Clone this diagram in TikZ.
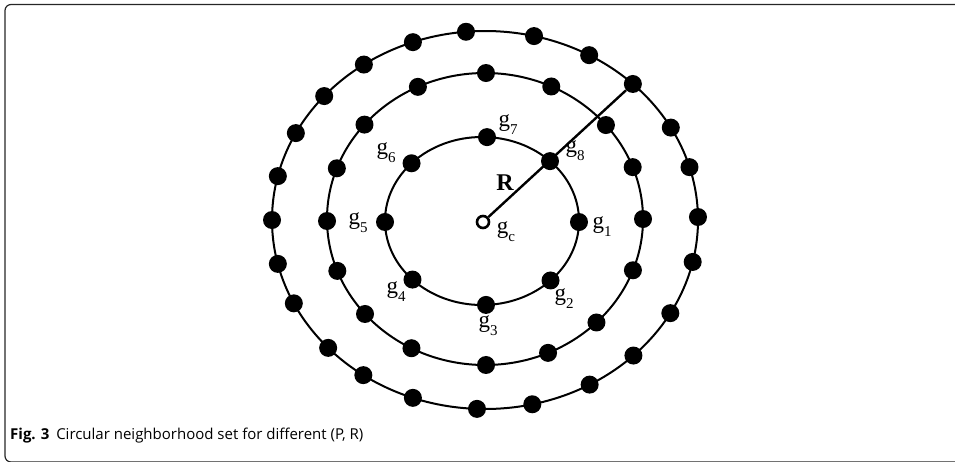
\documentclass[tikz,border=0pt]{standalone}
\usepackage{fontspec}
\setmainfont{Liberation Serif}
\newfontfamily\capfont{Open Sans}
\tikzset{
  ring/.style={line width=2pt},
  dot/.style={circle, fill=black, inner sep=0pt, minimum size=18pt},
  center/.style={circle, draw, fill=white, line width=2.6pt, inner sep=0pt, minimum size=12pt},
  lbl/.style={font=\fontsize{23}{23}\selectfont, inner sep=0pt},
  radius line/.style={line width=2.4pt},
  frame/.style={line width=1.2pt, black!85, rounded corners=6pt},
}
% label g with a lowered index
\newcommand\glab[1]{g\raisebox{-8pt}{\fontsize{15}{15}\selectfont #1}}
\begin{document}
\begin{tikzpicture}[x=1pt,y=-1pt]
\useasboundingbox (0,0) rectangle (955,461);
\begin{scope}
  \clip (0,0) rectangle (955,461);
  \draw[frame] (5,4.5) rectangle (1000,462);
\end{scope}

% the three sampling circles
\draw[ring] (482,221) ellipse [x radius=97,  y radius=84];
\draw[ring] (485,219) ellipse [x radius=158, y radius=146];
\draw[ring] (485,220) ellipse [x radius=213, y radius=189];

% sampling points, each moved onto its circle
\foreach \px/\py [count=\i] in {577/222, 550/280, 486/305, 412/280, 383/222, 410/162, 487/137, 549/162} {
  \pgfmathsetmacro\t{atan2((\py-221)/84,(\px-482)/97)}
  \coordinate (ip\i) at ({482+97*cos(\t)},{221+84*sin(\t)});
}
\foreach \px/\py [count=\i] in {486/72, 550/89, 606/125, 633/167, 643/219, 635/271, 597/323, 550/357, 486/365, 411/349, 365/314, 337/271, 327/221, 336/168, 365/125, 420/91} {
  \pgfmathsetmacro\t{atan2((\py-219)/146,(\px-485)/158)}
  \coordinate (mp\i) at ({485+158*cos(\t)},{219+146*sin(\t)});
}
\foreach \px/\py [count=\i] in {466/32, 533/40, 588/57, 635/82, 672/127, 690/167, 698/217, 698/263, 670/313, 635/357, 588/382, 533/407, 477/408, 412/400, 365/373, 328/348, 290/305, 282/263, 272/220, 282/177, 300/135, 328/99, 365/66, 412/40} {
  \pgfmathsetmacro\t{atan2((\py-220)/189,(\px-485)/213)}
  \coordinate (op\i) at ({485+213*cos(\t)},{220+189*sin(\t)});
}

\node[dot] (o4) at (op4) {};
\node[dot] (g8) at (ip8) {};
\node[center] (gc) at (483,222) {};
\draw[radius line] (gc) -- (o4);

\foreach \i in {1,...,7} { \node[dot] (g\i) at (ip\i) {}; }
\foreach \i in {1,...,16} { \node[dot] (m\i) at (mp\i) {}; }
\foreach \i in {1,2,3,5,6,...,24} { \node[dot] (o\i) at (op\i) {}; }

% labels
\node[lbl] (l1) at (602,227) {\glab{1}};
\node[lbl] (l2) at (564,299) {\glab{2}};
\node[lbl] (l3) at (488,326) {\glab{3}};
\node[lbl] (l4) at (396,292) {\glab{4}};
\node[lbl] (l5) at (358,223) {\glab{5}};
\node[lbl] (l6) at (386,153) {\glab{6}};
\node[lbl] (l7) at (508,125) {\glab{7}};
\node[lbl] (l8) at (575,151) {\glab{8}};
\node[lbl] (lc) at (506,232) {\glab{c}};
\node[lbl, font=\bfseries\fontsize{24}{24}\selectfont] (lR) at (505,183) {R};

% caption
\node[anchor=base west, inner sep=0pt, font=\capfont\fontsize{15}{15}\selectfont] (cap) at (10,439)
  {\textbf{Fig. 3}\hspace{0.45em}Circular neighborhood set for different (P, R)};
\end{tikzpicture}
\end{document}
